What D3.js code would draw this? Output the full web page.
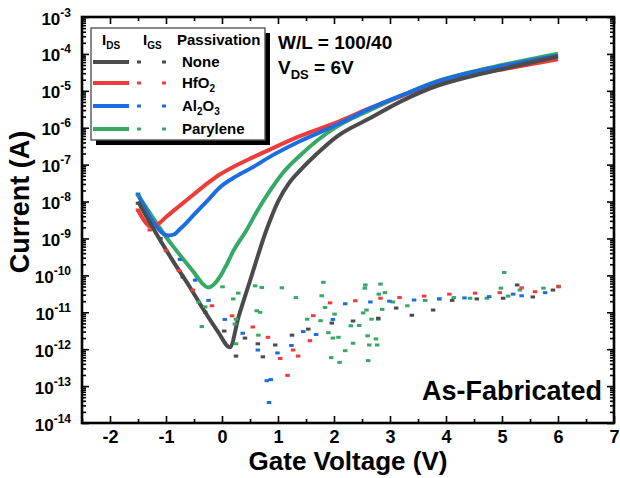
<!DOCTYPE html>
<html>
<head>
<meta charset="utf-8">
<script src="https://cdn.jsdelivr.net/npm/d3@7"></script>
<style>
  html, body { margin: 0; padding: 0; background: #fff; }
  svg { display: block; font-family: Arial, "Liberation Sans", sans-serif; font-weight: bold; }
</style>
</head>
<body>
<svg id="chart" width="620" height="478"></svg>
<script>
// passivation variants, drawn in this order
const names = ['Parylene', 'HfO2', 'Al2O3', 'None'];
const colors = { None: '#4b4b4b', HfO2: '#ee3b3b', Al2O3: '#1c6ee0', Parylene: '#37a866' };

const xTicks = [-2, -1, 0, 1, 2, 3, 4, 5, 6, 7];
const yExponents = [-3, -4, -5, -6, -7, -8, -9, -10, -11, -12, -13, -14];

// I_DS transfer curves [V_GS, I]
const idsNone = [
  [-1.5, 1.0e-8], [-1.23, 1.9e-9], [-0.9, 2.8e-10], [-0.57, 4.7e-11], [-0.3, 1.0e-11],
  [-0.07, 2.95e-12], [0.14, 1.12e-12], [0.3, 7.9e-12], [0.5, 7.1e-11], [0.8, 1.8e-9],
  [1.0, 1.0e-8], [1.2, 3.2e-8], [1.4, 7.1e-8], [1.7, 2.0e-7], [2.05, 5.75e-7],
  [2.64, 1.8e-6], [3.24, 5.6e-6], [3.83, 1.35e-5], [4.43, 2.45e-5], [5.0, 3.9e-5], [6.0, 8.5e-5]
];
const idsHfO2 = [
  [-1.5, 5.9e-9], [-1.4, 3.2e-9], [-1.28, 2.1e-9], [-1.15, 2.4e-9], [-1.0, 3.8e-9],
  [-0.8, 6.8e-9], [-0.63, 1.1e-8], [-0.3, 2.8e-8], [-0.04, 5.4e-8], [0.25, 9.5e-8],
  [0.56, 1.6e-7], [0.86, 2.6e-7], [1.4, 6.0e-7], [2.05, 1.4e-6], [2.64, 3.4e-6],
  [3.24, 7.6e-6], [3.83, 1.6e-5], [4.43, 2.75e-5], [5.0, 3.8e-5], [6.0, 7.1e-5]
];
const idsAl2O3 = [
  [-1.5, 1.6e-8], [-1.35, 5.6e-9], [-1.2, 2.4e-9], [-1.05, 1.35e-9], [-0.95, 1.2e-9],
  [-0.85, 1.3e-9], [-0.75, 1.8e-9], [-0.63, 2.7e-9], [-0.5, 4.4e-9], [-0.25, 1.1e-8],
  [-0.04, 2.4e-8], [0.25, 4.8e-8], [0.56, 8.7e-8], [0.86, 1.65e-7], [1.39, 4.3e-7],
  [2.05, 1.2e-6], [2.64, 3.3e-6], [3.24, 7.9e-6], [3.83, 1.75e-5], [4.43, 3.1e-5],
  [5.0, 4.7e-5], [6.0, 9.1e-5]
];
const idsParylene = [
  [-1.5, 1.5e-8], [-1.25, 4.0e-9], [-1.0, 1.1e-9], [-0.63, 2.1e-10], [-0.45, 9.5e-11],
  [-0.35, 6.0e-11], [-0.25, 4.7e-11], [-0.15, 5.6e-11], [-0.04, 9.1e-11], [0.1, 2.2e-10],
  [0.2, 4.5e-10], [0.44, 1.7e-9], [0.65, 6.3e-9], [0.86, 2.0e-8], [1.1, 6.3e-8],
  [1.4, 1.8e-7], [1.7, 4.5e-7], [2.05, 1.07e-6], [2.64, 3.0e-6], [3.24, 7.8e-6],
  [3.83, 1.8e-5], [4.43, 3.2e-5], [5.0, 5.0e-5], [6.0, 1.02e-4]
];

// I_GS gate leakage, dotted traces [V_GS, I]
const igsNone = [
  [-1.5, 9.0e-9], [-1.1, 1.0e-9], [-0.7, 9.0e-11], [-0.3, 1.0e-11], [0.04, 3.1e-12],
  [0.25, 6.5e-13], [0.41, 2.0e-12], [0.64, 1.4e-12], [0.73, 6.2e-13], [0.95, 1.3e-12],
  [1.25, 2.4e-12], [1.54, 3.5e-12], [1.96, 5.1e-12], [2.34, 5.8e-12], [2.79, 6.9e-12],
  [3.11, 1.3e-11], [3.39, 8.3e-12], [3.77, 1.15e-11], [4.11, 2.1e-11], [4.55, 2.3e-11],
  [5.02, 2.4e-11], [5.27, 5.5e-11], [5.55, 2.6e-11], [5.91, 4.0e-11]
];
const igsHfO2 = [
  [-1.5, 5.9e-9], [-1.29, 1.7e-9], [-1.0, 4.7e-10], [-0.77, 1.35e-10], [-0.52, 4.0e-11],
  [-0.18, 1.5e-11], [0.18, 8.0e-12], [0.55, 4.0e-12], [0.82, 2.1e-12], [1.04, 5.6e-13],
  [1.17, 1.95e-13], [1.27, 9.5e-13], [1.36, 6.5e-13], [1.57, 1.7e-12], [1.63, 8.1e-12],
  [1.93, 1.8e-11], [2.38, 2.05e-11], [2.83, 2.4e-11], [3.17, 2.5e-11], [3.61, 2.75e-11],
  [4.06, 3.1e-11], [4.52, 3.3e-11], [4.96, 3.4e-11], [5.35, 4.6e-11], [5.59, 3.6e-11],
  [6.01, 4.9e-11]
];
const igsAl2O3 = [
  [-1.5, 1.6e-8], [-0.99, 1.2e-9], [-0.75, 2.7e-10], [-0.48, 7.4e-11], [-0.24, 2.1e-11],
  [0.05, 6.4e-12], [0.37, 2.7e-12], [0.64, 9.5e-13], [0.8, 1.4e-13], [0.87, 1.5e-13],
  [0.84, 3.6e-14], [0.99, 7.9e-13], [1.24, 1.26e-12], [1.45, 3.0e-12], [1.68, 2.5e-12],
  [1.98, 6.4e-12], [2.2, 1.7e-11], [2.65, 1.9e-11], [2.99, 2.0e-11], [3.43, 2.15e-11],
  [3.88, 2.3e-11], [4.33, 2.45e-11], [4.77, 2.65e-11], [5.2, 3.1e-11], [5.35, 2.8e-11],
  [5.77, 3.4e-11]
];
const igsParylene = [
  [-1.5, 1.5e-8], [-0.45, 9.0e-11], [-0.42, 1.9e-11], [-0.3, 1.4e-11], [-0.36, 4.1e-12],
  [0.01, 4.9e-11], [0.2, 2.3e-11], [0.29, 3.3e-11], [0.25, 6.5e-12], [0.23, 4.8e-12],
  [0.25, 1.4e-12], [0.59, 5.2e-11], [0.71, 4.7e-11], [0.62, 1.1e-11], [0.68, 1.0e-11],
  [0.65, 2.4e-12], [1.07, 4.6e-11], [1.32, 2.5e-11], [1.52, 6.5e-12], [1.76, 5.9e-12],
  [1.78, 2.8e-11], [1.81, 6.5e-11], [1.84, 1.35e-11], [1.9, 2.8e-12], [1.95, 5.9e-13],
  [1.98, 2.0e-12], [2.01, 8.9e-12], [2.08, 2.1e-12], [2.1, 4.4e-13], [2.2, 9.1e-13],
  [2.3, 4.3e-12], [2.34, 1.45e-12], [2.45, 4.4e-12], [2.52, 9.6e-12], [2.58, 1.15e-11],
  [2.56, 5.5e-11], [2.55, 4.5e-11], [2.6, 2.3e-12], [2.61, 4.9e-13], [2.63, 1.3e-12],
  [2.67, 6.5e-12], [2.75, 1.9e-12], [2.77, 1.3e-12], [2.79, 6.5e-12], [2.8, 3.1e-11],
  [2.83, 5.8e-11], [2.86, 1.2e-11], [2.91, 3.4e-11], [3.05, 1.9e-11], [3.31, 1.5e-11],
  [3.63, 2.1e-11], [3.88, 2.3e-11], [4.14, 2.5e-11], [4.43, 2.4e-11], [4.73, 2.4e-11],
  [4.98, 4.5e-11], [5.04, 1.2e-10], [5.11, 2.75e-11], [5.32, 4.0e-11], [5.74, 4.5e-11],
  [6.01, 5.1e-11]
];

const ids = { None: idsNone, HfO2: idsHfO2, Al2O3: idsAl2O3, Parylene: idsParylene };
const igs = { None: igsNone, HfO2: igsHfO2, Al2O3: igsAl2O3, Parylene: igsParylene };

// legend rows with subscript parts
const legendRows = [
  { key: 'None', parts: [['None']] },
  { key: 'HfO2', parts: [['HfO'], ['2', 'sub']] },
  { key: 'Al2O3', parts: [['Al'], ['2', 'sub'], ['O'], ['3', 'sub']] },
  { key: 'Parylene', parts: [['Parylene']] }
];

const svg = d3.select('#chart');
const plot = { left: 82, right: 614, top: 17, bottom: 423 };

const x = d3.scaleLinear().domain([-2.5, 7]).range([plot.left, plot.right]);
const y = d3.scaleLog().domain([1e-14, 1e-3]).range([plot.bottom, plot.top]);

// writes text parts into a <text>, shifting sub/superscripts
function richText(sel, parts, smallSize, shift) {
  let offset = 0;
  parts.forEach(([str, kind]) => {
    const target = kind === 'sub' ? shift : kind === 'sup' ? -shift : 0;
    const t = sel.append('tspan').text(str).attr('dy', target - offset);
    if (kind) t.attr('font-size', smallSize);
    offset = target;
  });
}

// minor ticks
const yMajor = yExponents.map(e => Math.pow(10, e));
const yMinor = [];
for (let e = -14; e < -3; e++) {
  for (let m = 2; m <= 9; m++) yMinor.push(m * Math.pow(10, e));
}
const xMinor = d3.range(-2.5, 7, 1);

function tickGroup(axis, transform) {
  const g = svg.append('g').attr('transform', transform).call(axis);
  g.select('.domain').remove();
  g.selectAll('line').attr('stroke', '#000').attr('stroke-width', 1.6);
  return g;
}

tickGroup(d3.axisBottom(x).tickValues(xMinor).tickSize(-4).tickFormat(''), `translate(0,${plot.bottom})`);
tickGroup(d3.axisTop(x).tickValues(xMinor).tickSize(-4).tickFormat(''), `translate(0,${plot.top})`);
tickGroup(d3.axisTop(x).tickValues(xTicks).tickSize(-7).tickFormat(''), `translate(0,${plot.top})`);
tickGroup(d3.axisLeft(y).tickValues(yMinor).tickSize(-4).tickFormat(''), `translate(${plot.left},0)`);
tickGroup(d3.axisRight(y).tickValues(yMinor).tickSize(-4).tickFormat(''), `translate(${plot.right},0)`);
tickGroup(d3.axisRight(y).tickValues(yMajor).tickSize(-7).tickFormat(''), `translate(${plot.right},0)`);

const xAxis = tickGroup(
  d3.axisBottom(x).tickValues(xTicks).tickSize(-7).tickPadding(7).tickFormat(d => String(d)),
  `translate(0,${plot.bottom})`
);
xAxis.selectAll('text')
  .attr('font-size', 18).attr('font-family', 'Arial, "Liberation Sans", sans-serif')
  .attr('font-weight', 'bold').attr('fill', '#000');

const yAxis = tickGroup(
  d3.axisLeft(y).tickValues(yMajor).tickSize(-7).tickPadding(11).tickFormat(''),
  `translate(${plot.left},0)`
);
yAxis.selectAll('.tick').each(function (d) {
  const t = d3.select(this).select('text')
    .attr('font-size', 17).attr('font-family', 'Arial, "Liberation Sans", sans-serif')
    .attr('font-weight', 'bold').attr('fill', '#000').attr('dy', null).attr('y', 7);
  richText(t, [['10'], [String(Math.round(Math.log10(d))), 'sup']], 12, 8);
});

// frame
svg.append('rect')
  .attr('x', plot.left).attr('y', plot.top)
  .attr('width', plot.right - plot.left).attr('height', plot.bottom - plot.top)
  .attr('fill', 'none').attr('stroke', '#000').attr('stroke-width', 2.6);

// I_DS curves
const line = d3.line()
  .x(d => x(d[0]))
  .y(d => y(d[1]))
  .curve(d3.curveMonotoneX);

const curves = svg.append('g');
names.forEach(name => {
  curves.append('path')
    .datum(ids[name])
    .attr('d', line)
    .attr('fill', 'none')
    .attr('stroke', colors[name])
    .attr('stroke-width', 4)
    .attr('stroke-linejoin', 'round');
});

// I_GS dashes
const dots = svg.append('g');
names.forEach(name => {
  dots.selectAll(null)
    .data(igs[name])
    .join('rect')
    .attr('x', d => x(d[0]) - 2.25)
    .attr('y', d => y(d[1]) - 1.5)
    .attr('width', 4.5)
    .attr('height', 3)
    .attr('fill', colors[name]);
});

// legend
const legend = svg.append('g').attr('transform', 'translate(91,28)');
legend.append('rect')
  .attr('x', 5).attr('y', 5).attr('width', 174).attr('height', 112).attr('fill', '#000');
legend.append('rect')
  .attr('width', 174).attr('height', 112)
  .attr('fill', '#fff').attr('stroke', '#555').attr('stroke-width', 1.4);

const header = [
  { x: 11, parts: [['I'], ['DS', 'sub']] },
  { x: 52, parts: [['I'], ['GS', 'sub']] },
  { x: 86, parts: [['Passivation']] }
];
header.forEach(h => {
  const t = legend.append('text').attr('x', h.x).attr('y', 17).attr('font-size', 15);
  richText(t, h.parts, 10, 4);
});

const rowY = [34, 55, 78, 101];
legendRows.forEach((row, i) => {
  const yy = rowY[i];
  legend.append('line')
    .attr('x1', 2).attr('x2', 38).attr('y1', yy).attr('y2', yy)
    .attr('stroke', colors[row.key]).attr('stroke-width', 4);
  [48, 73].forEach(dx => {
    legend.append('rect')
      .attr('x', dx - 2).attr('y', yy - 1.5).attr('width', 4).attr('height', 3)
      .attr('fill', colors[row.key]);
  });
  const t = legend.append('text').attr('x', 91).attr('y', yy + 5).attr('font-size', 15);
  richText(t, row.parts, 10, 4);
});

// annotations
svg.append('text').attr('x', 278).attr('y', 49).attr('font-size', 19).text('W/L = 100/40');
const vds = svg.append('text').attr('x', 278).attr('y', 74).attr('font-size', 19);
richText(vds, [['V'], ['DS', 'sub'], [' = 6V']], 13, 5);

svg.append('text')
  .attr('x', 602).attr('y', 400).attr('text-anchor', 'end').attr('font-size', 27)
  .text('As-Fabricated');

// axis titles
svg.append('text')
  .attr('x', 348).attr('y', 470).attr('text-anchor', 'middle').attr('font-size', 26)
  .text('Gate Voltage (V)');
svg.append('text')
  .attr('transform', 'translate(29,202) rotate(-90)').attr('text-anchor', 'middle')
  .attr('font-size', 27)
  .text('Current (A)');
</script>
</body>
</html>
